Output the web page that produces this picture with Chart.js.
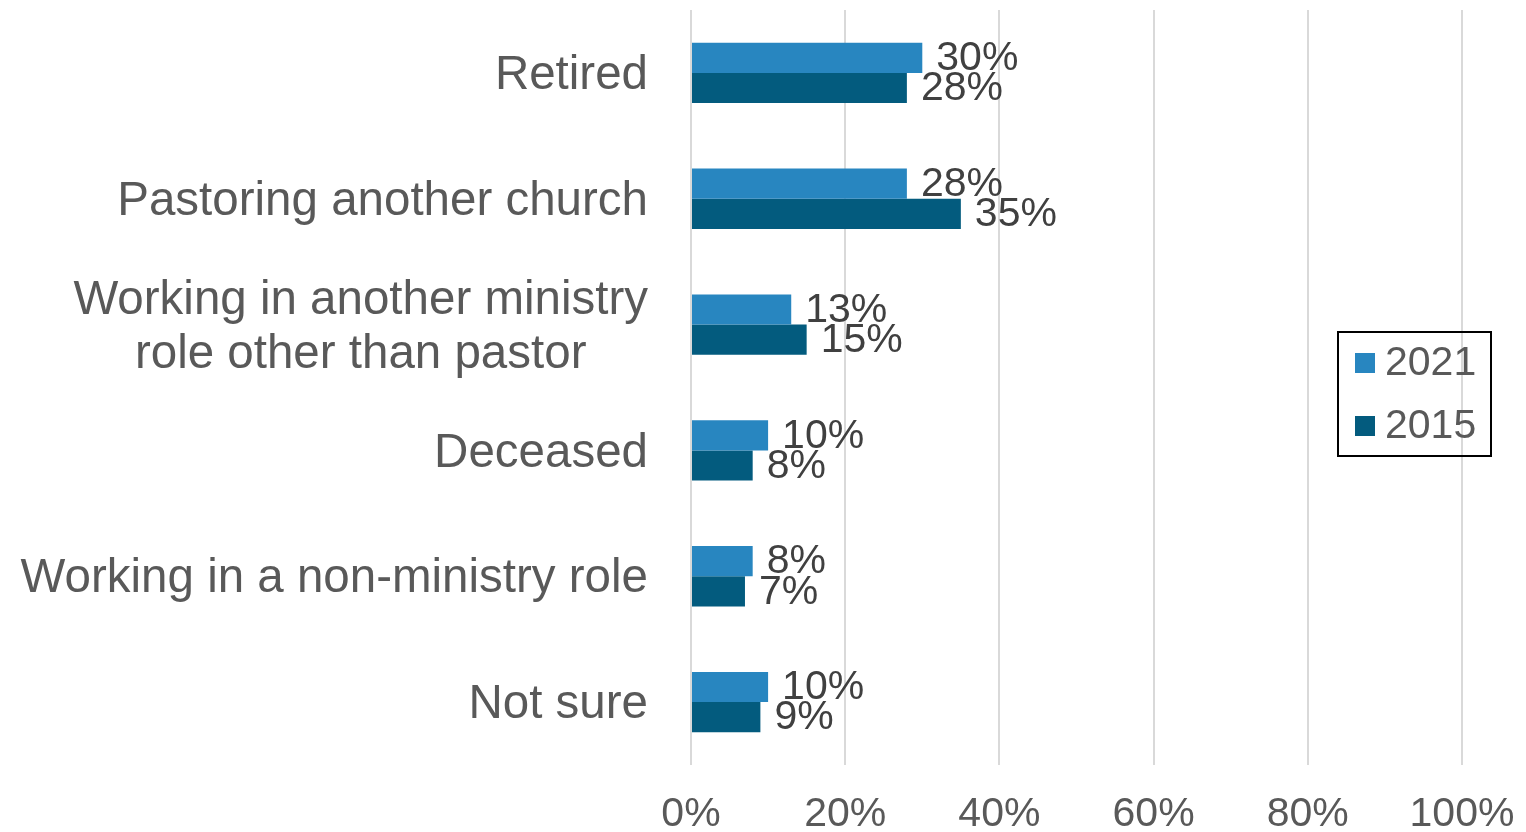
<!DOCTYPE html>
<html>
<head>
<meta charset="utf-8">
<script src="https://cdn.jsdelivr.net/npm/chart.js@4.4.1/dist/chart.umd.min.js"></script>
<style>
  html, body { margin: 0; padding: 0; background: #fff; }
  #wrap { width: 1526px; height: 832px; }
</style>
</head>
<body>
<div id="wrap"><canvas id="chart" width="1526" height="832"></canvas></div>
<script>
// --- data ---
const categories = [
    'Retired',
    'Pastoring another church',
    ['Working in another ministry', 'role other than pastor'],
    'Deceased',
    'Working in a non-ministry role',
    'Not sure'
];
const seriesNames = ['2021', '2015'];
const values2021 = [30, 28, 13, 10, 8, 10];
const values2015 = [28, 35, 15, 8, 7, 9];
const xTickMax = 100;
const xTickStep = 20;

const FONT = '"Liberation Sans", Arial, sans-serif';
const colors = ['#2886c0', '#035b7e'];

// value labels at the end of each bar
const barLabels = {
    id: 'barLabels',
    afterDatasetsDraw(chart) {
        const ctx = chart.ctx;
        ctx.save();
        ctx.font = `41px ${FONT}`;
        ctx.fillStyle = '#404040';
        ctx.textAlign = 'left';
        ctx.textBaseline = 'middle';
        chart.data.datasets.forEach((ds, i) => {
            chart.getDatasetMeta(i).data.forEach((bar, j) => {
                ctx.fillText(ds.data[j] + '%', bar.x + 14, bar.y + 1);
            });
        });
        ctx.restore();
    }
};

// category labels: block right-aligned, lines centred inside the block
const categoryLabels = {
    id: 'categoryLabels',
    afterDraw(chart) {
        const ctx = chart.ctx;
        const scale = chart.scales.y;
        const right = chart.chartArea.left - 43;
        const lineH = 54;
        ctx.save();
        ctx.font = `47.5px ${FONT}`;
        ctx.fillStyle = '#595959';
        ctx.textAlign = 'center';
        ctx.textBaseline = 'middle';
        chart.data.labels.forEach((lbl, i) => {
            const lines = Array.isArray(lbl) ? lbl : [lbl];
            const maxW = Math.max(...lines.map(l => ctx.measureText(l).width));
            const cy = scale.getPixelForTick(i) + 3;
            lines.forEach((line, k) => {
                const y = cy + (k - (lines.length - 1) / 2) * lineH;
                ctx.fillText(line, right - maxW / 2, y);
            });
        });
        ctx.restore();
    }
};

// boxed legend sitting over the right side of the plot
const boxLegend = {
    id: 'boxLegend',
    afterDraw(chart) {
        const ctx = chart.ctx;
        ctx.save();
        ctx.strokeStyle = '#000';
        ctx.lineWidth = 2;
        ctx.strokeRect(1338, 332, 153, 124);
        ctx.font = `41px ${FONT}`;
        ctx.textAlign = 'left';
        ctx.textBaseline = 'middle';
        chart.data.datasets.forEach((ds, i) => {
            const y = 363 + i * 63;
            ctx.fillStyle = ds.backgroundColor;
            ctx.fillRect(1355, y - 10, 20, 20);
            ctx.fillStyle = '#595959';
            ctx.fillText(ds.label, 1385, y + 1);
        });
        ctx.restore();
    }
};

new Chart(document.getElementById('chart'), {
    type: 'bar',
    data: {
        labels: categories,
        datasets: [
            { label: seriesNames[0], data: values2021, backgroundColor: colors[0] },
            { label: seriesNames[1], data: values2015, backgroundColor: colors[1] }
        ]
    },
    options: {
        indexAxis: 'y',
        responsive: false,
        animation: false,
        devicePixelRatio: 1,
        categoryPercentage: 0.48,
        barPercentage: 1,
        layout: { padding: { top: 10, right: 64, left: 0, bottom: 0 } },
        scales: {
            x: {
                min: 0,
                max: xTickMax,
                ticks: {
                    stepSize: xTickStep,
                    padding: 29,
                    color: '#595959',
                    font: { family: FONT, size: 41, lineHeight: 1 },
                    callback: v => v + '%'
                },
                grid: { color: '#d9d9d9', lineWidth: 2, drawTicks: false },
                border: { display: false },
                afterFit: s => {
                    s.height = 67;
                    s.paddingLeft = 0;
                    s.paddingRight = 0;
                }
            },
            y: {
                ticks: { display: false },
                grid: { display: false, drawTicks: false },
                border: { display: false },
                afterFit: s => {
                    s.width = 691;
                    s.paddingTop = 0;
                    s.paddingBottom = 0;
                }
            }
        },
        plugins: {
            legend: { display: false },
            tooltip: { enabled: false }
        }
    },
    plugins: [barLabels, categoryLabels, boxLegend]
});
</script>
</body>
</html>
